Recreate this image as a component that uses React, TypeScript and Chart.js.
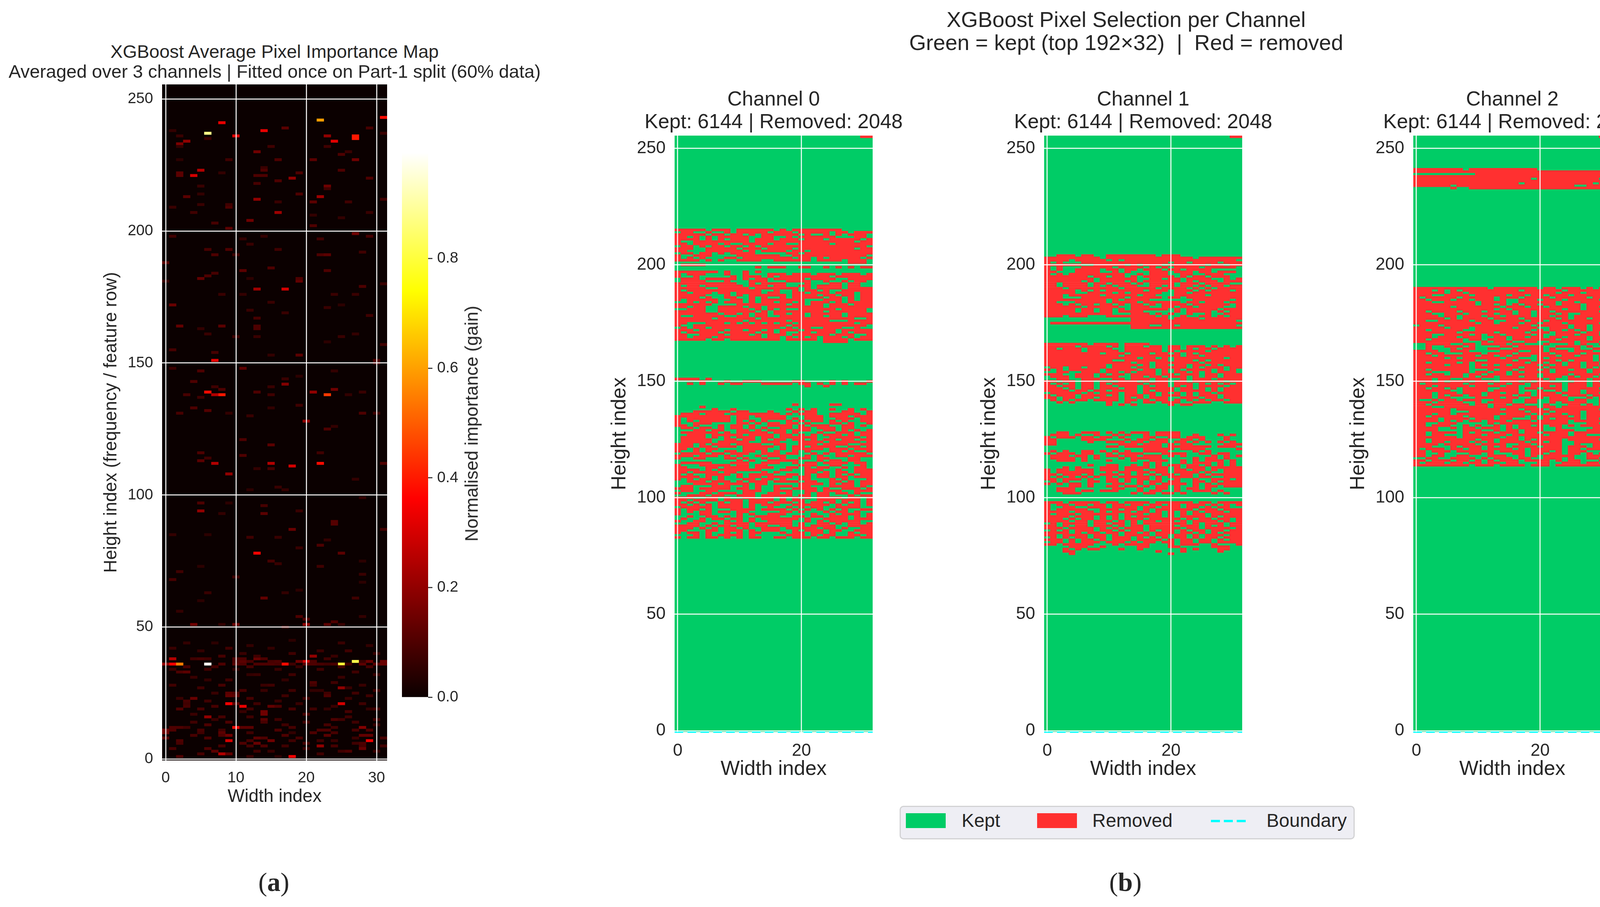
import { useEffect, useRef } from 'react';
import { Chart, registerables } from 'chart.js';

Chart.register(...registerables);

const textColor = '#262626';
const fontFamily = '"Liberation Sans", Arial, sans-serif';
const keptColor = '#00cc66';
const removedColor = '#ff3030';
const boundaryColor = '#00ffff';

const heatXTicks = [0, 10, 20, 30];
const channelXTicks = [0, 20];
const yTicks = [0, 50, 100, 150, 200, 250];
const colorbarTicks = [0, 0.2, 0.4, 0.6, 0.8];
const colorbarMax = 0.993;
const rowCount = 256;
const colCount = 32;

// [column, row, importance], everything else is about 0
const brightCells = [
  [8, 241, 0.33], [6, 237, 0.88], [10, 236, 0.32], [14, 238, 0.33], [22, 242, 0.6], [31, 243, 0.38], [27, 235, 0.4], [27, 236, 0.4],
  [23, 236, 0.2], [24, 234, 0.32], [3, 234, 0.2], [2, 233, 0.17], [17, 239, 0.12], [5, 223, 0.25], [4, 221, 0.3], [2, 221, 0.12], [2, 222, 0.12],
  [13, 230, 0.15], [18, 220, 0.2], [22, 213, 0.22], [13, 212, 0.2], [3, 213, 0.12], [16, 207, 0.22], [12, 204, 0.15], [27, 199, 0.15],
  [13, 178, 0.22], [17, 178, 0.3], [7, 151, 0.33], [6, 139, 0.38], [8, 138, 0.4], [7, 138, 0.25], [23, 138, 0.45], [21, 139, 0.2], [24, 140, 0.15],
  [17, 142, 0.18], [30, 151, 0.1], [30, 150, 0.1], [1, 172, 0.14], [7, 112, 0.25], [15, 112, 0.25], [18, 111, 0.3], [22, 112, 0.38], [9, 108, 0.2],
  [5, 94, 0.2], [13, 78, 0.37], [1, 36, 0.35], [2, 36, 0.55], [6, 36, 0.99], [17, 36, 0.38], [25, 36, 0.8], [27, 37, 0.82], [20, 37, 0.3],
  [1, 38, 0.25], [21, 39, 0.2], [9, 21, 0.35], [11, 20, 0.33], [25, 21, 0.3], [10, 12, 0.38], [9, 7, 0.3], [29, 7, 0.33], [18, 1, 0.35],
  [8, 2, 0.25], [6, 16, 0.2], [22, 5, 0.2], [25, 27, 0.2], [20, 128, 0.2],
];

const faintCells = [
  [1, 238, 0.06], [2, 236, 0.07], [2, 232, 0.06], [6, 235, 0.07], [15, 232, 0.08], [16, 227, 0.1], [21, 227, 0.12], [27, 227, 0.15], [23, 232, 0.08],
  [9, 227, 0.08], [2, 227, 0.05], [29, 239, 0.09], [31, 237, 0.07], [25, 229, 0.1], [26, 230, 0.07], [14, 224, 0.07], [14, 223, 0.1], [25, 223, 0.1],
  [19, 222, 0.1], [13, 221, 0.1], [14, 221, 0.1], [8, 222, 0.06], [29, 220, 0.1], [16, 219, 0.1], [23, 217, 0.15], [23, 216, 0.08], [13, 218, 0.09],
  [5, 217, 0.07], [5, 214, 0.06], [19, 214, 0.1], [31, 212, 0.08], [16, 211, 0.07], [21, 211, 0.12], [26, 211, 0.08], [5, 210, 0.07], [9, 209, 0.1],
  [9, 210, 0.08], [1, 209, 0.07], [4, 207, 0.08], [29, 207, 0.07], [25, 205, 0.06], [21, 206, 0.06], [21, 202, 0.1], [9, 201, 0.12], [7, 203, 0.09],
  [1, 198, 0.08], [29, 198, 0.09], [22, 197, 0.08], [11, 197, 0.06], [14, 198, 0.06], [9, 193, 0.1], [6, 193, 0.09], [22, 191, 0.1], [23, 191, 0.12],
  [7, 191, 0.1], [10, 191, 0.08], [16, 193, 0.08], [28, 192, 0.08], [0, 188, 0.12], [12, 195, 0.07], [11, 185, 0.12], [15, 186, 0.1], [23, 185, 0.1],
  [5, 182, 0.13], [6, 183, 0.1], [7, 184, 0.09], [19, 181, 0.13], [19, 182, 0.1], [0, 181, 0.07], [12, 182, 0.05], [28, 179, 0.1], [31, 180, 0.07],
  [27, 176, 0.07], [24, 176, 0.07], [8, 176, 0.07], [11, 176, 0.06], [15, 173, 0.07], [17, 169, 0.07], [12, 170, 0.07], [13, 167, 0.09], [29, 168, 0.08],
  [23, 171, 0.07], [25, 172, 0.05], [2, 164, 0.13], [8, 164, 0.12], [13, 164, 0.1], [13, 163, 0.1], [5, 163, 0.06], [6, 161, 0.07], [25, 160, 0.07],
  [27, 161, 0.06], [10, 160, 0.08], [13, 160, 0.07], [31, 157, 0.08], [23, 158, 0.05], [7, 154, 0.09], [1, 155, 0.09], [19, 153, 0.12], [15, 153, 0.06],
  [1, 148, 0.07], [11, 148, 0.12], [5, 147, 0.1], [24, 147, 0.06], [19, 145, 0.05], [17, 144, 0.07], [4, 143, 0.1], [7, 141, 0.08], [8, 140, 0.1],
  [15, 141, 0.07], [3, 138, 0.09], [13, 139, 0.1], [15, 138, 0.08], [28, 139, 0.07], [26, 138, 0.06], [5, 137, 0.08], [2, 131, 0.09], [4, 133, 0.1],
  [6, 132, 0.11], [15, 133, 0.06], [28, 131, 0.1], [9, 131, 0.06], [19, 134, 0.08], [30, 131, 0.08], [12, 130, 0.07], [23, 125, 0.1], [24, 126, 0.06],
  [11, 121, 0.1], [15, 119, 0.12], [5, 116, 0.1], [11, 115, 0.1], [22, 116, 0.08], [5, 113, 0.12], [6, 114, 0.08], [31, 112, 0.1], [15, 110, 0.09],
  [13, 110, 0.06], [27, 106, 0.06], [12, 102, 0.05], [16, 103, 0.07], [17, 102, 0.06], [28, 99, 0.06], [9, 97, 0.05], [5, 97, 0.1], [14, 96, 0.09],
  [14, 93, 0.12], [19, 94, 0.07], [8, 93, 0.06], [24, 89, 0.11], [24, 90, 0.11], [18, 87, 0.14], [31, 87, 0.08], [1, 85, 0.06], [6, 85, 0.05],
  [12, 84, 0.08], [16, 84, 0.07], [23, 83, 0.06], [19, 80, 0.07], [22, 81, 0.1], [25, 78, 0.12], [28, 75, 0.05], [15, 75, 0.09], [16, 74, 0.07],
  [5, 73, 0.05], [22, 73, 0.08], [2, 71, 0.08], [28, 70, 0.07], [10, 69, 0.08], [1, 68, 0.09], [28, 67, 0.05], [6, 63, 0.07], [14, 61, 0.13],
  [27, 61, 0.08], [17, 63, 0.06], [19, 64, 0.05], [5, 60, 0.05], [19, 54, 0.1], [20, 53, 0.1], [24, 52, 0.1], [2, 56, 0.06], [28, 54, 0.06],
  [4, 51, 0.15], [8, 51, 0.06], [10, 51, 0.15], [20, 51, 0.2], [17, 50, 0.09], [23, 51, 0.12], [25, 51, 0.07],
  [0, 36, 0.2], [8, 36, 0.1], [10, 36, 0.12], [11, 36, 0.1], [13, 36, 0.1], [14, 36, 0.1], [15, 36, 0.1], [16, 36, 0.09], [18, 36, 0.08], [20, 36, 0.12],
  [21, 36, 0.1], [22, 36, 0.09], [23, 36, 0.08], [24, 36, 0.09], [26, 36, 0.08], [28, 36, 0.12], [30, 36, 0.12], [31, 36, 0.14],
  [10, 37, 0.1], [11, 37, 0.12], [12, 37, 0.09], [15, 37, 0.09], [16, 37, 0.1], [19, 37, 0.15], [21, 37, 0.1], [28, 37, 0.07], [29, 37, 0.14], [31, 37, 0.14],
  [4, 38, 0.08], [5, 38, 0.09], [6, 38, 0.08], [10, 38, 0.1], [11, 38, 0.1], [13, 38, 0.14], [14, 38, 0.1], [23, 38, 0.08], [8, 39, 0.09], [13, 39, 0.08], [24, 39, 0.07],
  [2, 33, 0.1], [3, 33, 0.12], [12, 32, 0.06], [13, 32, 0.07], [25, 31, 0.07], [6, 30, 0.06], [21, 29, 0.1], [8, 28, 0.09], [15, 28, 0.08], [14, 28, 0.07],
  [21, 28, 0.08], [26, 27, 0.07], [14, 26, 0.07], [21, 26, 0.06], [22, 26, 0.06], [9, 25, 0.12], [10, 25, 0.1], [23, 25, 0.08], [27, 25, 0.08], [9, 24, 0.13],
  [10, 24, 0.12], [23, 24, 0.1], [4, 23, 0.14], [2, 23, 0.07], [3, 22, 0.09], [10, 21, 0.12], [3, 21, 0.08], [13, 21, 0.08], [15, 20, 0.13], [16, 20, 0.1],
  [3, 20, 0.09], [24, 20, 0.07], [2, 19, 0.1], [5, 19, 0.09], [18, 19, 0.09], [23, 19, 0.06], [29, 19, 0.06], [30, 19, 0.08], [14, 18, 0.15], [11, 18, 0.07],
  [14, 17, 0.15], [12, 16, 0.08], [26, 16, 0.08], [14, 15, 0.12], [24, 15, 0.1], [25, 15, 0.08], [7, 15, 0.07], [9, 14, 0.1], [20, 14, 0.08], [17, 13, 0.08],
  [23, 13, 0.09], [1, 12, 0.1], [2, 12, 0.1], [3, 12, 0.08], [11, 12, 0.12], [12, 12, 0.12], [28, 12, 0.18], [0, 11, 0.15], [1, 11, 0.1], [8, 11, 0.08],
  [16, 11, 0.1], [22, 11, 0.1], [23, 11, 0.1], [0, 10, 0.15], [5, 10, 0.08], [8, 10, 0.12], [18, 10, 0.06], [24, 10, 0.09], [8, 9, 0.1], [9, 9, 0.15],
  [28, 9, 0.13], [29, 9, 0.13], [23, 9, 0.12], [13, 8, 0.12], [14, 8, 0.1], [0, 8, 0.12], [27, 8, 0.07], [2, 7, 0.1], [12, 7, 0.09], [15, 7, 0.15],
  [22, 7, 0.08], [24, 7, 0.07], [11, 6, 0.1], [13, 6, 0.14], [28, 6, 0.1], [2, 6, 0.09], [24, 5, 0.09], [12, 5, 0.09], [14, 5, 0.1], [28, 5, 0.09],
  [6, 4, 0.1], [28, 4, 0.14], [7, 3, 0.12], [13, 3, 0.08], [26, 3, 0.1], [25, 3, 0.08], [9, 2, 0.13], [22, 2, 0.08], [2, 1, 0.1], [12, 1, 0.07], [16, 1, 0.05],
  [3, 44, 0.06], [7, 44, 0.05], [12, 43, 0.06], [18, 45, 0.05], [25, 44, 0.07], [29, 43, 0.06], [1, 42, 0.07], [9, 42, 0.08], [15, 42, 0.06], [22, 41, 0.07], [26, 41, 0.08],
  [5, 41, 0.06], [11, 40, 0.07], [18, 40, 0.08], [30, 40, 0.07], [3, 35, 0.09], [7, 35, 0.08], [12, 35, 0.09], [19, 35, 0.07], [25, 35, 0.08], [29, 35, 0.09],
  [1, 34, 0.07], [6, 34, 0.08], [10, 34, 0.06], [16, 34, 0.07], [22, 34, 0.08], [27, 33, 0.08], [18, 32, 0.08], [30, 32, 0.07], [4, 31, 0.07], [9, 30, 0.08], [17, 30, 0.06],
  [24, 29, 0.08], [1, 28, 0.08], [28, 28, 0.07], [5, 27, 0.08], [11, 26, 0.09], [18, 26, 0.08], [30, 26, 0.08], [7, 25, 0.07], [17, 24, 0.08], [29, 24, 0.08],
  [12, 23, 0.09], [20, 23, 0.08], [26, 23, 0.07], [6, 22, 0.08], [16, 22, 0.07], [28, 21, 0.08], [19, 21, 0.07], [7, 20, 0.09], [21, 19, 0.08], [12, 19, 0.08],
  [26, 18, 0.09], [4, 17, 0.07], [20, 17, 0.09], [8, 16, 0.09], [16, 15, 0.08], [30, 15, 0.08], [4, 14, 0.08], [14, 14, 0.09], [27, 14, 0.08], [6, 13, 0.1], [30, 13, 0.07],
  [18, 12, 0.09], [24, 12, 0.08], [5, 11, 0.09], [27, 11, 0.09], [12, 10, 0.08], [21, 10, 0.1], [29, 11, 0.1], [4, 9, 0.09], [17, 9, 0.1], [6, 8, 0.1], [19, 8, 0.09],
  [31, 8, 0.09], [18, 7, 0.08], [27, 6, 0.08], [20, 6, 0.09], [8, 5, 0.09], [17, 5, 0.08], [31, 5, 0.08], [1, 4, 0.09], [20, 4, 0.07], [15, 3, 0.07], [30, 3, 0.07], [5, 2, 0.09],
];

// # = removed, . = kept; first string of each block is its top row
const channel0CornerRows = ['..............................##'];
const channel0UpperRows = [
  '#####.###.######.#.########.....', '.##..#..#.#####.###.#####.##.###', '#####.##.##.#.######.#..#.#.###.', '##.#.#.#####..##..#.######...##.',
  '####.#.#.###.###.###.###.#####.#', '#..#########.################.##', '##.####.#..####.##..#####.######', '.##.#.##.##.#.#################.',
  '###..#####.###.####.#########.##', '##...######.#.####.##.##########', '.##.##.#.####.....##.###########', '#..###....#######..############.',
  '#.#.#...##.########.##.#.#####.#', '####.#.#..####..######.####.###.', '............................###.', '.####...........................',
  '.............#.###..##..#.#.#.##', '................................', '#######.#..#.#..................', '#.###...#..#...###.###.###.###.#',
  '#..#.....#.###.#.########.######', '.###.#####.#.##.#####.####..####', '.####...#...###...####..#..#.##.', '##########..#.####...#...##.##..',
  '#.##.######.###.##..##.####.##..', '#####..#####.#######.#.####.####', '#.############..#..#.##.#..#####', '##.###.##.####.##..##.###.###.##',
  '#####...#.#.######.####.##.##.##', '####.#..##..#.#..#.#####.##.#.##', '#.#####..##.#.#######...###.#.##', '..#.#.#.###.#.##.##.#.###.#.####',
  '######....########.##.##.###.###', '##.##..####.##.#########.#######', '..###..#####.#.#.#..######.####.', '#####..######.#.########.######.',
  '#######.##.#.##.##.##.#####.####', '#..#####..##.##..####.##.##.####', '######.######.###############..#', '###########.######.######...####',
  '##...###.#.#.#.#.##.#########.#', '#..###############.############.', '.#.##.###########.#.##..###..#..', '###.####.##.##.#.###.#####.#####',
  '#.#####.#####.##.#..##.###.#.###', '##..####.###.#.###.######.###..#', '##.###.#######.##.#.#.#.###.#.##', '#####.##.########.#####.####.###',
];
const channel0UpperTail = ['........................####....'];
const channel0MidRows = ['####.#..........................', '....#...#..###.....##....#.#...#', '..#.#..#.##...#####.##.#.#.#.##.', '.....................#..#.......'];
const channel0LowerRows = [
  '...................#.....##.....', '....#...........................', '......#..#........#.#.#..#..#.#.',
  '...######.##...#...#.##....##..#', '.###.###.########.#.###..#####.#', '#########.##.#####...###.###.###', '#.#######.##..####.#.###..###.##',
  '#.#.#####.#.#.#...#.#.##.#.#..##', '#..###....##.#.##.##.#...##.#..##', '##.#...#.##.#..####.#.###..##.#.', '.##.##.#.##.#.#..##.##.###.##...',
  '...##.##..##.#.###.###..##.#.#.#', '.######.#.#####.##.#...#..###.##', '..###.#####.####.##.#.#.###.#.##', '.####.#.#.###.##.######..#####.#',
  '.#####..##.##.#.##.##.#.##.##.##', '.#####.#####..###...####.#####.#', '###.#.###.####..##..###.####..##', '###.##.###.#####.#.##.####..##.#', '##.#.##....####..#.#####.###.###',
  '#..#.#..##.##.#.#..#.#...##.#..#', '.####.##.###..###.##..#.#.#####.', '###.###.#.#..#.###...#.#..##.###', '#..##...##.#..#..#..##.##...##..', '..........#.#..#####...#.##.##..',
  '.#####...###..###..#.##.####.##.', '#...#####.##.##.....###..##...#.', '##...##.####.###..##.#.##..#.##.', '####.#.#######...##..###..#..###',
  '##.####.##....#.#....##.#.##.##', '#.#..####.#.####..##.#.##.#.#.##', '####.#.#..#.##.####.##.##.##.###', '#.#.##.#...##.##.#..##...#.#...#',
  '..###.###.#.###.####.##..##.#.##', '...####.####.##.....####.#.##.##', '.##...###..#.#..###.##...####.#.', '###.#####.##.#..#..####.#..###.#',
  '.##..##....###..###..##.###..###', '#...##.###.##..##.#..#.##.##.#..', '..###.##..###.#####.##.##...#.##', '###..##.#..##.##.#.#.#.####.##.#',
  '##.####.###.####.#.##..###.###.#', '#.#.#..#.##.###.###.#.##.#.#.#.#', '##.#.#.####.#.###..######.#.##.#', '.#####.####.#..#..#.#.##..####.',
  '#.##.#...####.####.#.#.#.#.#..##', '#.#.##.##.##.....##.#...#.##.#..', '#...##....#.#..###....#..#.###.#', '..#..##.#.#..####..##.##.###.#.#',
  '.#..#.##.##.#.######.#..####.###', '#..##...#.#.#..####..#.#.#####..', '..##..#.####.######.#..##.#.##.#', '####.#.##.##.##..##.#.####..####',
  '###.#.#.##.#..###.#####.##.#..##', '##...##.###.#.###..#.###.##..###', '#.##.#..#.#.##...#.##.##.#..#.##', '...#.#.####.#.....###.#.##..##.#',
  '#.##.##.#.#.##..##.###.##.###.##',
];
const channel1CornerRows = ['..............................##'];
const channel1UpperRows = [
  '..###.##..########.###..........', '#########.##############.#######', '####.#####.#.##################.', '#.#...##############.##.####.###',
  '######..#####.#.###.######.##.##', '#.#...#####.####.#.#.####.#####.', '#.#..####.##.##.###.##.####.....', '##...####..#.#...###.###.##.###.',
  '#.#.#########..#.###..##..###...', '#######.##.##.#.#####.#.##.###..', '########.######..##.##.####..#.#', '######.#.####.#.######.#.###.###',
  '##.####.##.###.#.####.###.####..', '##.####.#.#.###..##.#.##.#.##.##', '###.########.#####.####.#.#.####', '#####.#.#.######.###.###.#.###.#',
  '#####..####.#.#####..##.########', '###.#####.#####.##...#####.#####', '###...#######.#####.##.#########', '##########.#.####.......######.#',
  '##...#####.####.######.##.###.##', '###.#.##.##.#.##.#.####.######.#', '######.#####..###..##.##.####..#', '#####.##.##.#.######.#.#####.###',
  '#####.##.##.####.....#.####.#.##', '###########...###.#.#..#..#..###', '###.###...########.#..#..##.#.##', '..............######.####.######',
  '..............#################.', '.###############################', '..............###..##.#########.', '..............##################',
];
const channel1MiddleRows = [
  '#######.####.####...............', '#####.####.#.###.##.##.###.#.#.#', '##.###.####..######.##.#.##.####', '######.#####.######.#.####.#####',
  '#########.###.###.##.#.#.#######', '############.#########.##.######', '###############.##.#.########.##', '###########..#######.###.#.#####',
  '##############.##.#######.######', '##########.####.#.##.##.##.#.###', '.##.##.###.###.##.#####.#.###.##', '#.#.#####.#####.##.#.#.####.#.#.',
  '..##..###.##.#.###.#.##.#.#.###.', '###..###.#.##.####.##.###.##.###', '.###.###.###..##.##.###.#.##.###', '..##..###..##.###.##..#.###.####',
  '##.##.##.##.###.#.##.##.#####.##', '#.#.#.##.#.#####.###.###.#.#.#.#', '##.##.##.##.###.#.##.#.#.####.##', '###.#.##.###.##.#####.##.#.#.###',
  '####.##.##.####.#.###.####.#.###', '.#####.#.###.##.##.#.#.#.##.####', '#.###.####.#.###.#.###.#.###.###', '##.##.##.###.#.#.###..###.##.###',
  '.#.#.##.####.##.#.##.#.#.#.##.##', '..#.#.....#..#..##.###..###..###', '..........#.#.#.....#.##........',
];
const channel1SparseRows = [
  '..##..###.#.#.###.####..........', '.###.#..#..#.#..#.####..#...#.#.', '#.###.##.##.#...##..##.###...#..', '##....####...#.##.##..##.#...#..',
  '##.....#..###.##.###.##.#.#.#.#.', '##..........###.###.#.##.....###', '..........##.######.#######.###.', '................#####.####.....#',
  '.#.#..##.#.#.#..####....#.#.....', '#.###.##..#.####...####..##.##..', '.###.##.#.##.##.###.#.#....#.#.#', '.####.#.#...#.#####.....#.##.#..',
  '..###.#...#...#..###..#.#.###.#.', '................#.#...#.###.#.#.', '.......#..##..#.#.#.##.##.#.#.#.', '...#.#...###.####.##.#.###.#####',
  '#.##.###.###.###.###.##.##.#.###', '#.######..#.##.##.##.####.#..###', '##.###.#.###.#.#.#.##.##.#.#####', '#.#.#.#.#.#.#####.#.####.##..###',
  '##.###.#..##.#.##.#..#..#..###.#', '.#.#...##.##.#.#.##.##..##.#.###', '#.#.##.#...##..#.#.####.#.#.####', '....##.#..##.##.#.##.#..#.##.###',
  '..###......##..#..##.#.##.#.....', '..###.##.###...#.##..#..###.#...', '...###........#.##.##.#....#.#..',
];
const channel1LowerRows = [
  '###.#####.##.####.######.##.####', '#.##.##.##.##.##.##.##.###.#.#.#', '#..##..###.####.##.###.##.#.##..', '#.#####..###.##.#.######.###.###',
  '####.###.#.###.##.#.#.#.#.###.##', '#.###.######.###.##.#.#.##.#####', '####.###.#.#.#.####.#.####.#.###', '###.#.##.#.#.###.#####.#.##.##.#',
  '####.##.###.#.#.##.##.#.####.#.#', '.#.####.##.##.#.#######.#.###.##', '##.#.##.###.#.##.####.###.#.#.##', '###.####.#.#.###.#####.##.####.#',
  '.#.#.###.##.#.##.#.##.#.##.##.##', '####.#.##.##.##.#.###.##.#.#.###', '##.####.##.#.####.##.##.#.###.##', '.#.#.##.##.###.#.#.#.##.#.##.###',
  '###.#.##.#.###.####.#.##.##.#.##', '.##.#.###.###.#.##.##.##.##.####', '##.#####...#.####...#.###..#...#', '....###..#.....##...##.....###..',
  '...#.#.##...#..#......#.#...##..', '...##.............#...#.....#...', '....#...............#...........',
];
const channel2CornerRows = ['..............................#.'];
const channel2UpperRows = [
  '########.###########............', '################################', '..........######################', '################################',
  '###################.##########.#', '################################', '#################.###########.##', '######.###################..####',
  '......#..#######################',
];
const channel2LowerRows = [
  '############.#######.##.###.#.##', '###.#.#.#########.######.#######', '#####.##.##############.###.####', '###..####.#####.##.##.###.#####.',
  '#.#####.#####.###.####.#####.###', '##.###.##.###.#..###.###.#####.#', '###..#####.####..######.##.#####', '##########.##.#.#.##.##.###.####',
  '######.#######.###.##.#####.##.#', '#############.#.########.##.####', '##.####.###.####.##.##.#######..', '###..###.####.##.##.###.#..#####',
  '####.##.###.##.####.##.##.######', '#####.#.####.####.#####.#.##.###', '##..#####.###..###.##.##########', '##########.##.###.##.###.#####.#',
  '.###.##############.#####.##.###', '#####.###.######.###..###.##.###', '##.#####..#########.#.##.#.#.###', '#######.#####.####.###.####.##..',
  '###..####.#.##.####.#..###.###.#', '###.###.###..##.##.##.##.###.###', '##.#####.##.###.#######.####.##.', '########...#.###..##..####.###..',
  '..####..##.####.##...#...#.#..##', '..#..###.#....##.####..####.#..#', '..#...#.##..##..#####.#...#..##.', '####..###.....###..##.###.###..#',
  '##.##...###.####.#####.####.####', '###.######.##.#.###.###.##.##.##', '#####.#.######.##...#.#######.#', '##########..####.##.###.#.###.##',
  '##.####.#.########.##.##.##.##..', '#####.###.#.#.#.####.#.#.##.##.#', '#########.#######.###.#####.#.##', '##.######...#.##.###.#.##.##.###',
  '###...###.##.##.#.####.#####.###', '##.##.##.##.###.####.####.####..', '########.#.##.###.##.###.#.##.##', '###.##..###...#######.#..###.###',
  '###.#.###.###.###.#.##....##.#..', '#.######.###.##.##.#####.###.##.', '###.#####.####.##..###.#.###.##.', '##.##.#.####..###.##.###.#####.#',
  '######..####.####...#..#.##.####', '###.###.###.##.##.#.###.###.##.#', '###.#.##.##.####.##.####.###.###', '###.##....####.##..##.###...#.##',
  '#..#.##.###..###..##..###.##..##', '###.####..#.####..##..#.####..##', '##.######.##.##.##...#...##.#.##', '###..#######.#######.##.#######.',
  '######.#######.##.###.########..', '######...#########.###.####.####', '###.##.#######.####.#.##.##.####', '##.#####.####.####.#.####.#.####',
  '####.####.###.##...#.#.####.##.#', '####.#.#.##.###.###.#####.######', '##..###.....#.###########...##.#', '##.###..#.#..#.#.##.#.##.#.#####',
  '####..#.##.###.#.####..#.....###', '####....###..#.##.###..###..####', '##.####.#.###.###.##.####.######', '##.##...###.###.#####.###.##...#',
  '#######.######.##.##############', '##.#######.##.###.#.####.#####.#', '##.##.###.#.#.####.##.##..######', '####.#####.####..##.####..#..###',
  '###...#.###.#.#.####.###.###.###', '#.###.##.##.####.#.#####.##.####', '##.###.######.####.###.#.###...#', '##..#....##.#...##.##.##.##.#.##',
  '##.##..##...###..#.#.#####..###.', '..##..####.#.###.##..###.#..##.#', '##.###.##.#.#.###.####.#.##...##', '#.###.##.##.##.##...##..###.##.#',
  '#########.###.####.###.#########',
];

const channel0Blocks = [
  { top: 255, rows: channel0CornerRows }, { top: 215, rows: channel0UpperRows }, { top: 167, rows: channel0UpperTail },
  { top: 151, rows: channel0MidRows }, { top: 140, rows: channel0LowerRows },
];
const channel1Blocks = [
  { top: 255, rows: channel1CornerRows }, { top: 204, rows: channel1UpperRows }, { top: 166, rows: channel1MiddleRows },
  { top: 128, rows: channel1SparseRows }, { top: 98, rows: channel1LowerRows },
];
const channel2Blocks = [
  { top: 255, rows: channel2CornerRows }, { top: 241, rows: channel2UpperRows }, { top: 190, rows: channel2LowerRows },
];

const channelTitles = ['Channel 0', 'Channel 1', 'Channel 2'];
const keptLine = 'Kept: 6144 | Removed: 2048';

const hotStops: [number, string][] = [[0, '#0b0000'], [0.365, '#ff0000'], [0.746, '#ffff00'], [1, '#ffffff']];

function hot(v: number) {
  const r = Math.min(1, 0.0416 + (v / 0.365) * 0.9584);
  const g = Math.max(0, Math.min(1, (v - 0.365) / 0.381));
  const b = Math.max(0, Math.min(1, (v - 0.746) / 0.254));
  return `rgb(${Math.round(r * 255)},${Math.round(g * 255)},${Math.round(b * 255)})`;
}

// turns the row strings into floating bars, one per run of equal cells
function buildRuns(blocks: { top: number; rows: string[] }[]) {
  const grid: Record<number, string> = {};
  blocks.forEach(b => b.rows.forEach((row, i) => { grid[b.top - i] = row; }));
  const kept: { x: number[]; y: number }[] = [];
  const removed: { x: number[]; y: number }[] = [];
  for (let r = 0; r < rowCount; r++) {
    const src = grid[r] || '';
    const row = src.padEnd(colCount, src[src.length - 1] || '.').slice(0, colCount);
    let start = 0;
    for (let c = 1; c <= colCount; c++) {
      if (c === colCount || row[c] !== row[start]) {
        (row[start] === '#' ? removed : kept).push({ x: [start - 0.5, c - 0.5], y: r });
        start = c;
      }
    }
  }
  return { kept, removed };
}

function baseScales(xTicks: number[], tickSize: number, titleSize: number, axisW: number, axisH: number, yPad: number, xPad: number, yLabel: string) {
  const font = { family: fontFamily, size: tickSize };
  const tFont = { family: fontFamily, size: titleSize };
  return {
    x: {
      type: 'linear', min: -0.5, max: 31.5, position: 'bottom',
      afterBuildTicks: (s: any) => { s.ticks = xTicks.map(value => ({ value })); },
      afterFit: (s: any) => { s.height = axisH; s.paddingLeft = 0; s.paddingRight = 0; },
      grid: { z: 1, color: 'rgba(255,255,255,0.85)', lineWidth: 3, drawTicks: false },
      border: { display: false },
      ticks: { color: textColor, font, padding: 22, maxRotation: 0, autoSkip: false, callback: (v: any) => String(v) },
      title: { display: true, text: 'Width index', color: textColor, font: tFont, padding: { top: 0, bottom: xPad } },
    },
    y: {
      type: 'linear', min: -0.5, max: 255.5, offset: false, position: 'left',
      afterBuildTicks: (s: any) => { s.ticks = yTicks.map(value => ({ value })); },
      afterFit: (s: any) => { s.width = axisW; s.paddingTop = 0; s.paddingBottom = 0; },
      grid: { z: 1, offset: false, color: 'rgba(255,255,255,0.85)', lineWidth: 3, drawTicks: false },
      border: { display: false },
      ticks: { color: textColor, font, padding: 23, autoSkip: false, callback: (v: any) => String(v) },
      title: { display: true, text: yLabel, color: textColor, font: tFont, padding: { top: yPad, bottom: 0 } },
    },
  };
}

function HeatmapPanel() {
  const ref = useRef<HTMLCanvasElement>(null);
  useEffect(() => {
    if (!ref.current) return;
    const cells = [...brightCells, ...faintCells].map(([c, r, v]) => ({ x: [c - 0.5, c + 0.5], y: r, v }));
    const background = Array.from({ length: rowCount }, (_, r) => ({ x: [-0.5, 31.5], y: r }));
    const chart = new Chart(ref.current, {
      type: 'bar',
      data: {
        datasets: [
          { label: 'Importance', data: cells, backgroundColor: (ctx: any) => hot(ctx.raw ? ctx.raw.v : 0), barThickness: 6.76, grouped: false },
          { label: 'Background', data: background, backgroundColor: hot(0), barThickness: 7, grouped: false },
        ],
      },
      options: {
        indexAxis: 'y', responsive: false, animation: false, devicePixelRatio: 1,
        layout: { padding: { right: 209, top: 20, left: 0, bottom: 0 } },
        plugins: { legend: { display: false }, tooltip: { enabled: false } },
        scales: baseScales(heatXTicks, 39, 46, 415, 154, 258, 33, 'Height index (frequency / feature row)'),
      },
    } as any);
    return () => chart.destroy();
  }, []);
  return <canvas ref={ref} width={1200} height={1904} style={{ position: 'absolute', left: 0, top: 196 }} />;
}

function Colorbar() {
  const ref = useRef<HTMLCanvasElement>(null);
  useEffect(() => {
    if (!ref.current) return;
    const chart = new Chart(ref.current, {
      type: 'bar',
      data: {
        labels: [''],
        datasets: [{
          data: [[0, colorbarMax]], categoryPercentage: 1, barPercentage: 1,
          backgroundColor: (ctx: any) => {
            const area = ctx.chart.chartArea;
            if (!area) return hot(0);
            const g = ctx.chart.ctx.createLinearGradient(0, area.bottom, 0, area.top);
            hotStops.forEach(([p, col]) => g.addColorStop(p, col));
            return g;
          },
        }],
      },
      options: {
        responsive: false, animation: false, devicePixelRatio: 1,
        layout: { padding: { top: 30, bottom: 30, left: 0, right: 0 } },
        plugins: { legend: { display: false }, tooltip: { enabled: false } },
        scales: {
          x: { display: false, grid: { display: false } },
          y: {
            min: 0, max: colorbarMax, position: 'right',
            afterBuildTicks: (s: any) => { s.ticks = colorbarTicks.map(value => ({ value })); },
            afterFit: (s: any) => { s.width = 133; s.paddingTop = 0; s.paddingBottom = 0; },
            grid: { drawOnChartArea: false, tickLength: 11, tickColor: '#444', tickWidth: 3 },
            border: { display: false },
            ticks: { color: textColor, font: { family: fontFamily, size: 39 }, padding: 12, callback: (v: any) => Number(v).toFixed(1) },
          },
        },
      },
    } as any);
    return () => chart.destroy();
  }, []);
  return <canvas ref={ref} width={200} height={1453} style={{ position: 'absolute', left: 1029, top: 361 }} />;
}

function ChannelPanel({ title, blocks, left }: { title: string; blocks: { top: number; rows: string[] }[]; left: number }) {
  const ref = useRef<HTMLCanvasElement>(null);
  useEffect(() => {
    if (!ref.current) return;
    const { kept, removed } = buildRuns(blocks);
    const chart = new Chart(ref.current, {
      type: 'bar',
      data: {
        datasets: [
          {
            type: 'line', label: 'Boundary', data: [{ x: -0.5, y: -0.45 }, { x: 31.5, y: -0.45 }], borderColor: boundaryColor,
            borderWidth: 5, borderDash: [22, 11], pointRadius: 0, clip: false, indexAxis: 'y',
          },
          { label: 'Removed', data: removed, backgroundColor: removedColor, barThickness: 5.96, grouped: false },
          { label: 'Kept', data: kept, backgroundColor: keptColor, barThickness: 6.2, grouped: false },
        ],
      },
      options: {
        indexAxis: 'y', responsive: false, animation: false, devicePixelRatio: 1,
        layout: { padding: { right: 20, top: 20, left: 0, bottom: 0 } },
        plugins: { legend: { display: false }, tooltip: { enabled: false } },
        scales: baseScales(channelXTicks, 44, 52, 177, 157, 5, 30, 'Height index'),
      },
    } as any);
    return () => chart.destroy();
  }, [title, blocks]);
  const plotCenter = 177 + 253.5;
  return (
    <>
      <canvas ref={ref} width={704} height={1703} style={{ position: 'absolute', left, top: 327 }} />
      <Text x={left + plotCenter} y={252} size={52}>{title}</Text>
      <Text x={left + plotCenter} y={310} size={52}>{keptLine}</Text>
    </>
  );
}

function Text({ x, y, size, children, rotate, family }: any) {
  return (
    <div style={{
      position: 'absolute', left: x, top: y, whiteSpace: 'pre', color: textColor, fontFamily: family || fontFamily, fontSize: size,
      lineHeight: 1, transform: `translate(-50%, -50%)${rotate ? ` rotate(${rotate}deg)` : ''}`,
    }}>{children}</div>
  );
}

function LegendBox() {
  const swatch = (left: number, color: string) => (
    <div style={{ position: 'absolute', left, top: 2081, width: 102, height: 38, background: color }} />
  );
  return (
    <>
      <div style={{ position: 'absolute', left: 2303, top: 2062, width: 1165, height: 86, boxSizing: 'border-box', background: '#eeeef4', border: '3px solid #d2d2d4', borderRadius: 10 }} />
      {swatch(2319, keptColor)}
      {swatch(2655, removedColor)}
      <div style={{ position: 'absolute', left: 3100, top: 2098, width: 93, height: 6, background: `repeating-linear-gradient(90deg, ${boundaryColor} 0 23px, transparent 23px 33px)` }} />
      <Text x={2511} y={2100} size={48}>Kept</Text>
      <Text x={2899} y={2100} size={48}>Removed</Text>
      <Text x={3345} y={2100} size={48}>Boundary</Text>
    </>
  );
}

export default function App() {
  return (
    <div style={{ position: 'absolute', left: 0, top: 0, width: 4214, height: 2321, background: '#fff', overflow: 'hidden' }}>
      <HeatmapPanel />
      <Colorbar />
      <Text x={703} y={131} size={47}>XGBoost Average Pixel Importance Map</Text>
      <Text x={703} y={182} size={47}>Averaged over 3 channels | Fitted once on Part-1 split (60% data)</Text>
      <Text x={1207} y={1084} size={46} rotate={-90}>Normalised importance (gain)</Text>
      <ChannelPanel title={channelTitles[0]} blocks={channel0Blocks} left={1550} />
      <ChannelPanel title={channelTitles[1]} blocks={channel1Blocks} left={2496} />
      <ChannelPanel title={channelTitles[2]} blocks={channel2Blocks} left={3441} />
      <Text x={2883} y={51} size={55.5}>XGBoost Pixel Selection per Channel</Text>
      <Text x={2883} y={110} size={55.5}>{'Green = kept (top 192×32)  |  Red = removed'}</Text>
      <LegendBox />
      <Text x={701} y={2257} size={68} family='"Liberation Serif", serif'>(<b>a</b>)</Text>
      <Text x={2881} y={2257} size={68} family='"Liberation Serif", serif'>(<b>b</b>)</Text>
    </div>
  );
}
